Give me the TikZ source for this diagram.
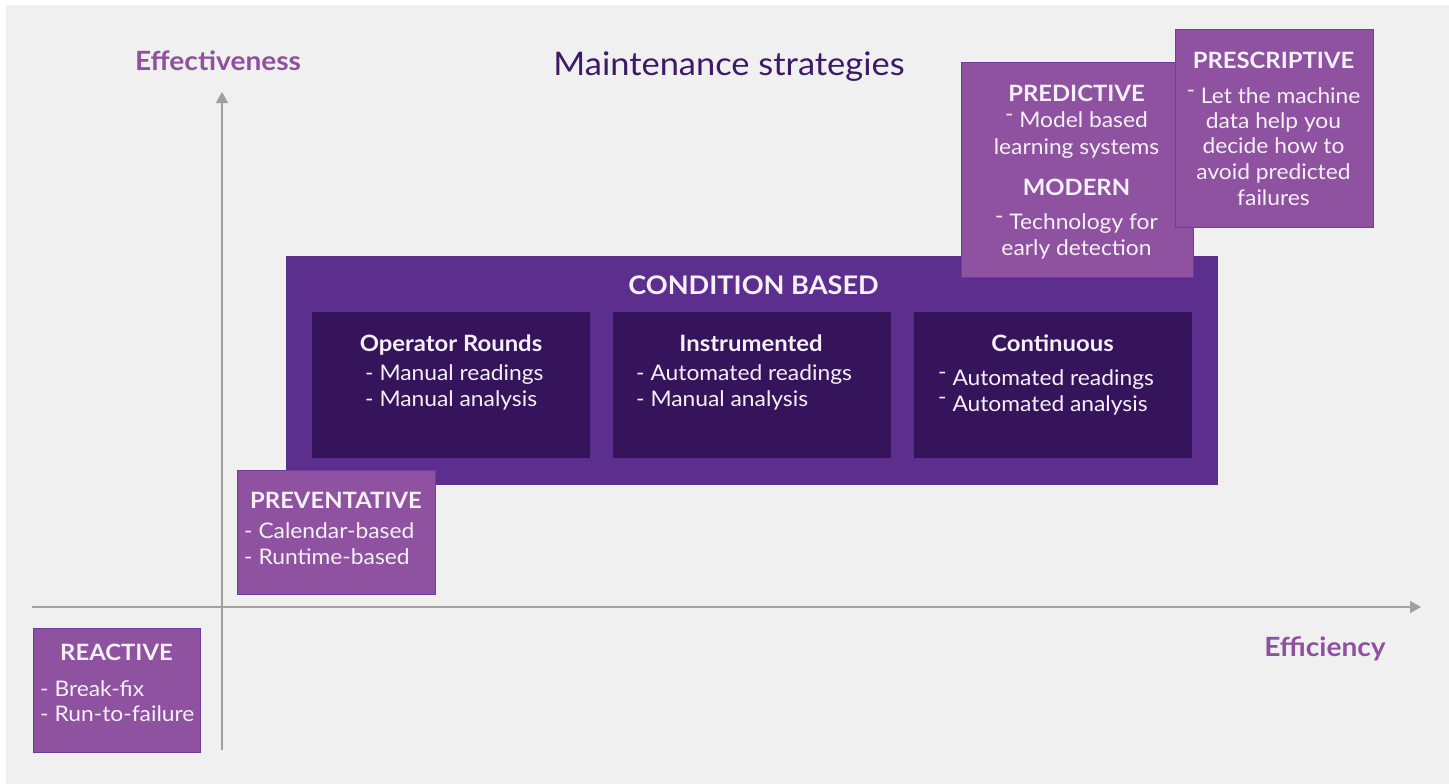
\documentclass[tikz,border=0pt]{standalone}
\usepackage{fontspec}
\setmainfont{Lato}[FakeStretch=1.06]
\usetikzlibrary{arrows.meta}
\definecolor{bggray}{HTML}{F0F0F0}
\definecolor{lightpurple}{HTML}{8F52A0}
\definecolor{lightborder}{HTML}{6E3CA0}
\definecolor{midpurple}{HTML}{5C2F8F}
\definecolor{darkpurple}{HTML}{36145C}
\definecolor{titlepurple}{HTML}{3D1A66}
\definecolor{labelpurple}{HTML}{9050A0}
\definecolor{axisgray}{HTML}{A0A0A0}
\definecolor{textwhite}{HTML}{F6F0F8}
\tikzset{
  lbox/.style={draw=lightborder, line width=1pt, fill=lightpurple, inner sep=0pt, anchor=north west},
  bigbox/.style={fill=midpurple, inner sep=0pt, anchor=north west},
  dbox/.style={fill=darkpurple, inner sep=0pt, anchor=north west},
  ttl/.style={text=textwhite, font=\fontsize{22.5}{27}\selectfont\bfseries, inner sep=0pt, anchor=base},
  body/.style={text=textwhite, font=\fontsize{21.5}{26}\selectfont, inner sep=0pt},
  bodyl/.style={body, anchor=base west},
  bodyc/.style={body, anchor=base},
  axlabel/.style={text=labelpurple, font=\fontsize{26.5}{30}\selectfont\bfseries, inner sep=0pt, anchor=base},
  axis/.style={draw=axisgray, line width=1.6pt, -{Triangle[length=11pt,width=12pt]}}
}
\newcommand{\rdash}{\raisebox{0.28em}{-}}
\begin{document}
\begin{tikzpicture}[x=1pt,y=-1pt]
\useasboundingbox (0,0) rectangle (1449,784);
\fill[white] (0,0) rectangle (1449,784);
\fill[bggray] (6,5) rectangle (1449,784);

% title and axis labels
\node[text=titlepurple, font=\fontsize{32.5}{38}\selectfont, inner sep=0pt, anchor=base] (title) at (729,76) {Maintenance strategies};
\node[axlabel] (effect) at (218,70.5) {Effectiveness};
\node[axlabel] (effic) at (1325,656) {Efficiency};

% axes
\coordinate (vbot) at (222,750);
\coordinate (vtop) at (222,92);
\coordinate (hleft) at (32,607);
\coordinate (hright) at (1421,607);
\draw[axis] (vbot) -- (vtop);
\draw[axis] (hleft) -- (hright);

% condition based
\node[bigbox, minimum width=932pt, minimum height=229pt] (cond) at (286,256) {};
\node[ttl, font=\fontsize{25.6}{30}\selectfont\bfseries] (condt) at (753.5,294) {CONDITION BASED};
\node[dbox, minimum width=278pt, minimum height=146pt] (op) at (312,312) {};
\node[dbox, minimum width=278pt, minimum height=146pt] (ins) at (613,312) {};
\node[dbox, minimum width=278pt, minimum height=146pt] (con) at (914,312) {};

\node[ttl] (opt) at (451,351) {Operator Rounds};
\node[bodyl] (op1) at (365,380.5) {- Manual readings};
\node[bodyl] (op2) at (365,406) {- Manual analysis};

\node[ttl] (inst) at (751,351) {Instrumented};
\node[bodyl] (ins1) at (636,380.5) {- Automated readings};
\node[bodyl] (ins2) at (636,406) {- Manual analysis};

\node[ttl] (cont) at (1052.5,351.5) {Continuous};
\node[bodyl] (con1) at (938,385.5) {\rdash\ Automated readings};
\node[bodyl] (con2) at (938,411) {\rdash\ Automated analysis};

% preventative
\node[lbox, minimum width=198pt, minimum height=124pt] (prev) at (237,469.5) {};
\node[ttl] (prevt) at (336,508) {PREVENTATIVE};
\node[bodyl] (prev1) at (244,538.5) {- Calendar-based};
\node[bodyl] (prev2) at (244,564) {- Runtime-based};

% reactive
\node[lbox, minimum width=167pt, minimum height=124pt] (react) at (33,627.5) {};
\node[ttl] (reactt) at (116.5,660.5) {REACTIVE};
\node[bodyl] (react1) at (40,696) {- Break-fix};
\node[bodyl] (react2) at (40,721.5) {- Run-to-failure};

% predictive / modern
\node[lbox, minimum width=231.5pt, minimum height=215pt] (pred) at (961,62) {};
\node[ttl] (predt) at (1076.5,101.5) {PREDICTIVE};
\node[bodyc] (pred1) at (1076.5,127.5) {\rdash\ Model based};
\node[bodyc] (pred2) at (1076.5,154) {learning systems};
\node[ttl] (modt) at (1076.5,195.5) {MODERN};
\node[bodyc] (mod1) at (1076.5,229.5) {\rdash\ Technology for};
\node[bodyc] (mod2) at (1076.5,255) {early detection};

% prescriptive
\node[lbox, minimum width=197.5pt, minimum height=197.5pt] (presc) at (1175.3,29.2) {};
\node[ttl] (presct) at (1273.5,68.3) {PRESCRIPTIVE};
\node[bodyc] (presc1) at (1273.5,103.5) {\rdash\ Let the machine};
\node[bodyc] (presc2) at (1273.5,128.5) {data help you};
\node[bodyc] (presc3) at (1273.5,153.5) {decide how to};
\node[bodyc] (presc4) at (1273.5,179.3) {avoid predicted};
\node[bodyc] (presc5) at (1273.5,205) {failures};
\end{tikzpicture}
\end{document}
